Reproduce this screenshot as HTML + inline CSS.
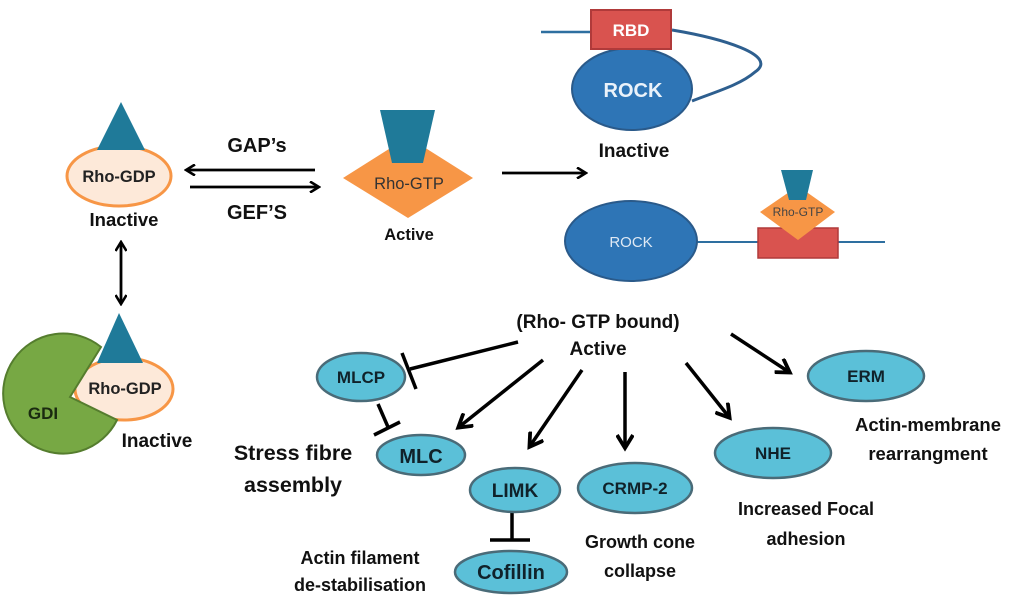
<!DOCTYPE html>
<html><head><meta charset="utf-8"><style>
html,body{margin:0;padding:0;background:#fff;}
svg{display:block;}
text{font-family:"Liberation Sans",sans-serif;font-weight:bold;}
</style></head><body>
<svg width="1024" height="609" viewBox="0 0 1024 609" xmlns="http://www.w3.org/2000/svg">
<defs>
<marker id="ah" markerWidth="12" markerHeight="12" refX="9" refY="6" orient="auto" markerUnits="userSpaceOnUse">
<path d="M1,0.5 L10,6 L1,11.5" fill="none" stroke="#000" stroke-width="2.6"/>
</marker>
<marker id="ah2" markerWidth="18" markerHeight="18" refX="13" refY="9" orient="auto" markerUnits="userSpaceOnUse">
<path d="M1,1 L14,9 L1,17" fill="none" stroke="#000" stroke-width="3.8"/>
</marker>
<marker id="ahs" markerWidth="12" markerHeight="12" refX="3" refY="6" orient="auto" markerUnits="userSpaceOnUse">
<path d="M11,0.5 L2,6 L11,11.5" fill="none" stroke="#000" stroke-width="2.6"/>
</marker>
</defs>

<!-- top Rho-GDP -->
<ellipse cx="119" cy="176" rx="52" ry="30" fill="#fde9d9" stroke="#f79646" stroke-width="3"/>
<polygon points="121,102 97,150 145,150" fill="#1f7a99"/>
<text x="119" y="182" font-size="16.5" text-anchor="middle" fill="#222">Rho-GDP</text>
<text x="124" y="226" font-size="18.5" text-anchor="middle" fill="#111">Inactive</text>

<!-- GAP/GEF arrows -->
<line x1="315" y1="170" x2="187" y2="170" stroke="#000" stroke-width="2.8" marker-end="url(#ah)"/>
<line x1="190" y1="187" x2="318" y2="187" stroke="#000" stroke-width="2.8" marker-end="url(#ah)"/>
<text x="257" y="152" font-size="20" text-anchor="middle" fill="#111">GAP’s</text>
<text x="257" y="219" font-size="20" text-anchor="middle" fill="#111">GEF’S</text>

<!-- Rho-GTP -->
<polygon points="408,137 473,178 408,218 343,178" fill="#f79646"/>
<polygon points="380,110 435,110 423,163 392,163" fill="#1f7a99"/>
<text x="409" y="189" font-size="16.5" text-anchor="middle" fill="#333" style="font-weight:normal">Rho-GTP</text>
<text x="409" y="240" font-size="16.5" text-anchor="middle" fill="#111">Active</text>

<!-- vertical double arrow -->
<line x1="121" y1="243" x2="121" y2="303" stroke="#000" stroke-width="2.8" marker-start="url(#ahs)" marker-end="url(#ah)"/>

<!-- bottom Rho-GDP with GDI -->
<ellipse cx="124" cy="389" rx="49" ry="31" fill="#fde9d9" stroke="#f79646" stroke-width="3"/>
<path d="M70,397 L101,347 A60 60 0 1 0 117,420 Z" fill="#77a844" stroke="#557d2e" stroke-width="2"/>
<polygon points="119,313 97,363 143,363" fill="#1f7a99"/>
<text x="125" y="394" font-size="16.5" text-anchor="middle" fill="#222">Rho-GDP</text>
<text x="43" y="419" font-size="17" text-anchor="middle" fill="#1a2a10">GDI</text>
<text x="157" y="447" font-size="19" text-anchor="middle" fill="#111">Inactive</text>

<!-- ROCK inactive -->
<line x1="541" y1="32" x2="592" y2="32" stroke="#2e6fa0" stroke-width="2.5"/>
<path d="M672,30 C720,38 780,55 755,72 C740,85 715,92 692,101" fill="none" stroke="#2e5f8f" stroke-width="3"/>
<ellipse cx="632" cy="89" rx="60" ry="41" fill="#2e75b6" stroke="#2a5a8a" stroke-width="2"/>
<rect x="591" y="10" width="80" height="39" fill="#d9534f" stroke="#b03a3a" stroke-width="2"/>
<text x="631" y="36" font-size="17" text-anchor="middle" fill="#fff">RBD</text>
<text x="633" y="97" font-size="20" text-anchor="middle" fill="#eaf2fa">ROCK</text>
<text x="634" y="157" font-size="19" text-anchor="middle" fill="#111">Inactive</text>

<line x1="502" y1="173" x2="585" y2="173" stroke="#000" stroke-width="2.8" marker-end="url(#ah)"/>

<!-- ROCK active -->
<line x1="697" y1="242" x2="885" y2="242" stroke="#2e6fa0" stroke-width="2"/>
<ellipse cx="631" cy="241" rx="66" ry="40" fill="#2e75b6" stroke="#2a5a8a" stroke-width="2"/>
<text x="631" y="247" font-size="15" text-anchor="middle" fill="#dfe9f4" style="font-weight:normal">ROCK</text>
<rect x="758" y="228" width="80" height="30" fill="#d9534f" stroke="#b03a3a" stroke-width="1.5"/>
<polygon points="798,186 835,212 798,240 760,212" fill="#f79646"/>
<polygon points="781,170 813,170 806,200 789,200" fill="#1f7a99"/>
<text x="798" y="216" font-size="12" text-anchor="middle" fill="#444" style="font-weight:normal">Rho-GTP</text>

<!-- (Rho-GTP bound) Active -->
<text x="598" y="328" font-size="19" text-anchor="middle" fill="#111">(Rho- GTP bound)</text>
<text x="598" y="355" font-size="19" text-anchor="middle" fill="#111">Active</text>

<!-- connectors -->
<line x1="518" y1="342" x2="410" y2="369" stroke="#000" stroke-width="3.5"/>
<line x1="402" y1="353" x2="416" y2="389" stroke="#000" stroke-width="3.5"/>
<line x1="378" y1="404" x2="388" y2="427" stroke="#000" stroke-width="3.5"/>
<line x1="374" y1="435" x2="400" y2="422" stroke="#000" stroke-width="3.5"/>
<line x1="543" y1="360" x2="459" y2="427" stroke="#000" stroke-width="3.5" marker-end="url(#ah2)"/>
<line x1="582" y1="370" x2="530" y2="446" stroke="#000" stroke-width="3.5" marker-end="url(#ah2)"/>
<line x1="625" y1="372" x2="625" y2="447" stroke="#000" stroke-width="3.5" marker-end="url(#ah2)"/>
<line x1="686" y1="363" x2="729" y2="417" stroke="#000" stroke-width="3.5" marker-end="url(#ah2)"/>
<line x1="731" y1="334" x2="789" y2="372" stroke="#000" stroke-width="3.5" marker-end="url(#ah2)"/>
<line x1="512" y1="512" x2="512" y2="540" stroke="#000" stroke-width="3.5"/>
<line x1="490" y1="540" x2="530" y2="540" stroke="#000" stroke-width="3.5"/>

<!-- teal nodes -->
<g fill="#5bc0d8" stroke="#4a6b78" stroke-width="2.5">
<ellipse cx="361" cy="377" rx="44" ry="24"/>
<ellipse cx="421" cy="455" rx="44" ry="20"/>
<ellipse cx="515" cy="490" rx="45" ry="22"/>
<ellipse cx="511" cy="572" rx="56" ry="21"/>
<ellipse cx="635" cy="488" rx="57" ry="25"/>
<ellipse cx="773" cy="453" rx="58" ry="25"/>
<ellipse cx="866" cy="376" rx="58" ry="25"/>
</g>
<g fill="#10222a" text-anchor="middle">
<text x="361" y="383" font-size="17">MLCP</text>
<text x="421" y="463" font-size="20">MLC</text>
<text x="515" y="497" font-size="19">LIMK</text>
<text x="511" y="579" font-size="20">Cofillin</text>
<text x="635" y="494" font-size="17">CRMP-2</text>
<text x="773" y="459" font-size="17">NHE</text>
<text x="866" y="382" font-size="17">ERM</text>
</g>

<!-- descriptive labels -->
<g fill="#111" text-anchor="middle">
<text x="293" y="460" font-size="21.5">Stress fibre</text>
<text x="293" y="492" font-size="21.5">assembly</text>
<text x="360" y="564" font-size="18">Actin filament</text>
<text x="360" y="591" font-size="18">de-stabilisation</text>
<text x="640" y="548" font-size="18">Growth cone</text>
<text x="640" y="577" font-size="18">collapse</text>
<text x="806" y="515" font-size="18">Increased Focal</text>
<text x="806" y="545" font-size="18">adhesion</text>
<text x="928" y="431" font-size="18.5">Actin-membrane</text>
<text x="928" y="460" font-size="18.5">rearrangment</text>
</g>
</svg>
</body></html>
